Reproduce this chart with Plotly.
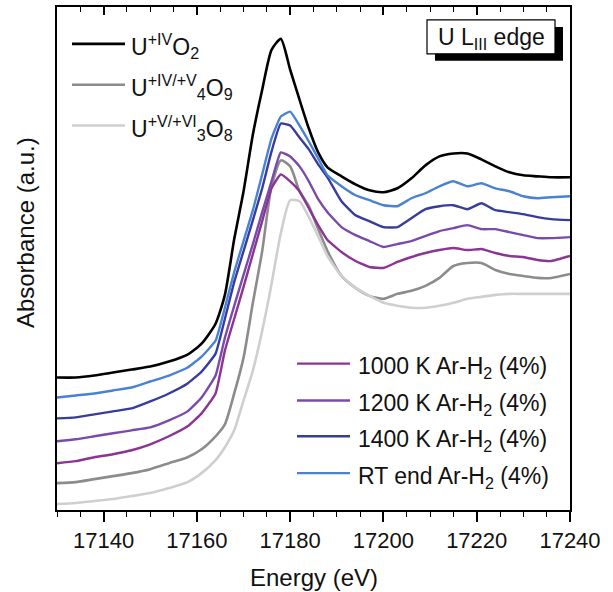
import plotly.graph_objects as go

# Energy grid (eV)
energy = [17130, 17134, 17138, 17142, 17146, 17150, 17154, 17158, 17161, 17164,
          17166, 17168, 17170, 17172, 17174, 17176, 17178, 17180, 17182, 17184,
          17186, 17188, 17191, 17194, 17197, 17200, 17203, 17206, 17209, 17212,
          17215, 17218, 17221, 17224, 17227, 17230, 17233, 17236, 17240]

# Reference compounds (stacked, arbitrary units)
uo2 = [1.33, 1.33, 1.35, 1.38, 1.41, 1.44, 1.49, 1.56, 1.67, 1.87,
       2.16, 2.72, 3.20, 3.77, 4.22, 4.62, 4.73, 4.42, 4.12, 3.83,
       3.59, 3.44, 3.35, 3.27, 3.21, 3.19, 3.23, 3.33, 3.46, 3.55,
       3.58, 3.58, 3.52, 3.45, 3.39, 3.36, 3.35, 3.34, 3.34]
u4o9 = [0.27, 0.28, 0.31, 0.34, 0.37, 0.41, 0.47, 0.53, 0.61, 0.74,
        0.86, 1.17, 1.53, 2.08, 2.60, 3.25, 3.51, 3.45, 3.20, 3.05,
        2.82, 2.60, 2.35, 2.23, 2.15, 2.12, 2.17, 2.20, 2.25, 2.33,
        2.45, 2.48, 2.48, 2.41, 2.37, 2.35, 2.33, 2.33, 2.37]
u3o8 = [0.06, 0.07, 0.09, 0.11, 0.14, 0.17, 0.22, 0.28, 0.37, 0.50,
        0.63, 0.80, 1.10, 1.40, 1.80, 2.27, 2.78, 3.11, 3.10, 2.94,
        2.75, 2.55, 2.35, 2.23, 2.15, 2.08, 2.05, 2.03, 2.03, 2.05,
        2.08, 2.12, 2.14, 2.16, 2.17, 2.17, 2.17, 2.17, 2.17]

# Samples under Ar-H2 (4%)
s1000 = [0.47, 0.49, 0.53, 0.56, 0.60, 0.66, 0.74, 0.84, 0.97, 1.17,
         1.60, 1.92, 2.24, 2.57, 2.90, 3.23, 3.37, 3.30, 3.20, 3.03,
         2.86, 2.71, 2.59, 2.50, 2.44, 2.43, 2.49, 2.54, 2.58, 2.61,
         2.63, 2.61, 2.62, 2.58, 2.55, 2.54, 2.51, 2.50, 2.55]
s1200 = [0.69, 0.71, 0.74, 0.77, 0.80, 0.83, 0.90, 0.99, 1.13, 1.35,
         1.73, 2.05, 2.36, 2.67, 2.99, 3.30, 3.59, 3.55, 3.45, 3.30,
         3.12, 2.99, 2.84, 2.76, 2.70, 2.64, 2.67, 2.70, 2.75, 2.80,
         2.83, 2.86, 2.82, 2.82, 2.79, 2.76, 2.73, 2.73, 2.74]
s1400 = [0.92, 0.93, 0.96, 0.99, 1.02, 1.09, 1.17, 1.27, 1.39, 1.57,
         1.92, 2.29, 2.60, 2.91, 3.23, 3.60, 3.88, 3.86, 3.74, 3.62,
         3.47, 3.34, 3.10, 2.96, 2.90, 2.84, 2.84, 2.93, 3.02, 3.05,
         3.06, 3.02, 3.08, 3.01, 2.99, 2.97, 2.94, 2.92, 2.91]
s_rt = [1.13, 1.15, 1.17, 1.20, 1.23, 1.29, 1.35, 1.43, 1.54, 1.70,
        2.03, 2.39, 2.70, 3.01, 3.37, 3.73, 3.95, 4.00, 3.86, 3.70,
        3.53, 3.36, 3.25, 3.16, 3.11, 3.06, 3.05, 3.13, 3.18, 3.25,
        3.30, 3.25, 3.28, 3.23, 3.20, 3.15, 3.13, 3.14, 3.15]

ref_names = ["U<sup>+IV</sup>O<sub>2</sub>",
             "U<sup>+IV/+V</sup><sub>4</sub>O<sub>9</sub>",
             "U<sup>+V/+VI</sup><sub>3</sub>O<sub>8</sub>"]
sample_names = ["1000 K Ar-H<sub>2</sub> (4%)", "1200 K Ar-H<sub>2</sub> (4%)",
                "1400 K Ar-H<sub>2</sub> (4%)", "RT end Ar-H<sub>2</sub> (4%)"]
x_ticks = [17140, 17160, 17180, 17200, 17220, 17240]

ref_colors = ["#000000", "#8c8c8c", "#cfcfcf"]
sample_colors = ["#8b3493", "#7a4aab", "#383c9c", "#4a82d2"]

FONT = "Arial, Liberation Sans, sans-serif"
TXT = "#111111"

W, H = 613, 592
L, R, T, B = 57, 43, 5, 82
pw, ph = W - L - R, H - T - B


def px(xp):
    return (xp - L) / pw


def py(yp):
    return (H - B - yp) / ph


fig = go.Figure()

for vals, col, name in zip([uo2, u4o9, u3o8], ref_colors, ref_names):
    fig.add_trace(go.Scatter(x=energy, y=vals, mode="lines", name=name,
                             line=dict(color=col, width=2.6, shape="spline", smoothing=0.6),
                             showlegend=False))

for vals, col, name in zip([s1000, s1200, s1400, s_rt], sample_colors, sample_names):
    fig.add_trace(go.Scatter(x=energy, y=vals, mode="lines", name=name,
                             line=dict(color=col, width=2.4, shape="spline", smoothing=0.4),
                             showlegend=False))

# invisible trace to activate the top (mirror) axis
fig.add_trace(go.Scatter(x=[17130], y=[0], xaxis="x2", mode="markers",
                         marker=dict(opacity=0), showlegend=False, hoverinfo="skip"))

fig.update_layout(
    width=W, height=H,
    margin=dict(l=L, r=R, t=T, b=B, pad=0),
    paper_bgcolor="white", plot_bgcolor="white",
    font=dict(family=FONT, color=TXT),
    xaxis=dict(range=[17130, 17240], tickvals=x_ticks, tickformat="d",
               ticks="outside", ticklen=10,
               tickwidth=1.6, tickcolor="black", showline=True, linewidth=2,
               linecolor="black", mirror=True, showgrid=False, zeroline=False,
               tickfont=dict(size=22, family=FONT, color=TXT),
               minor=dict(dtick=5, tick0=17130, ticks="outside", ticklen=5,
                          tickwidth=1.4, tickcolor="black", showgrid=False)),
    xaxis2=dict(range=[17130, 17240], overlaying="x", side="top", anchor="y",
                tickvals=x_ticks, ticks="inside", ticklen=8, tickwidth=1.6,
                tickcolor="black", showticklabels=False, showgrid=False,
                zeroline=False, showline=False,
                minor=dict(dtick=5, tick0=17130, ticks="inside", ticklen=5,
                           tickwidth=1.4, tickcolor="black", showgrid=False)),
    yaxis=dict(range=[0, 5.05], showticklabels=False, ticks="", showline=True,
               linewidth=2, linecolor="black", mirror=True, showgrid=False,
               zeroline=False),
    showlegend=False,
)

# axis titles
fig.add_annotation(text="Energy (eV)", xref="paper", yref="paper", x=0.5, y=py(578),
                   showarrow=False, font=dict(size=24, family=FONT, color=TXT),
                   yanchor="middle")
fig.add_annotation(text="Absorbance (a.u.)", xref="paper", yref="paper", x=px(25), y=py(232),
                   showarrow=False, textangle=-90,
                   font=dict(size=24, family=FONT, color=TXT),
                   xanchor="center", yanchor="middle")

# legend for reference compounds (top-left)
ref_rows = [42, 83, 124]
for name, col, yy in zip(ref_names, ref_colors, ref_rows):
    fig.add_shape(type="line", xref="paper", yref="paper", x0=px(72), x1=px(125),
                  y0=py(yy), y1=py(yy), line=dict(color=col, width=2.6))
    fig.add_annotation(text=name, xref="paper", yref="paper", x=px(129), y=py(yy + 2),
                       showarrow=False, xanchor="left", yanchor="middle",
                       font=dict(size=23, family=FONT, color=TXT))

# legend for samples (bottom-right)
sample_rows = [363, 400, 436, 473]
for name, col, yy in zip(sample_names, sample_colors, sample_rows):
    fig.add_shape(type="line", xref="paper", yref="paper", x0=px(297), x1=px(350),
                  y0=py(yy), y1=py(yy), line=dict(color=col, width=2.4))
    fig.add_annotation(text=name, xref="paper", yref="paper", x=px(356), y=py(yy + 4),
                       showarrow=False, xanchor="left", yanchor="middle",
                       font=dict(size=23, family=FONT, color=TXT))

# "U L_III edge" box with drop shadow
fig.add_shape(type="rect", xref="paper", yref="paper", x0=px(435), x1=px(563),
              y0=py(59), y1=py(25), fillcolor="black", line=dict(width=0), layer="above")
fig.add_shape(type="rect", xref="paper", yref="paper", x0=px(427), x1=px(555),
              y0=py(52), y1=py(18), fillcolor="white", line=dict(color="black", width=1.2),
              layer="above")
fig.add_annotation(text="U L<sub>III</sub> edge", xref="paper", yref="paper",
                   x=px(491), y=py(37), showarrow=False,
                   font=dict(size=23, family=FONT, color=TXT),
                   xanchor="center", yanchor="middle")

fig.write_html("out.html")
